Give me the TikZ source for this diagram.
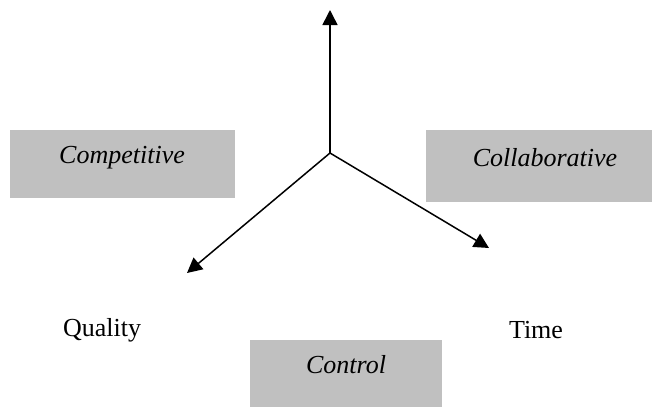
\documentclass[tikz,border=0pt]{standalone}
\usepackage{fontspec}
\setmainfont{Liberation Serif}
\usetikzlibrary{arrows.meta}
\tikzset{
  gbox/.style={fill=boxgray,inner sep=0pt},
  boxtext/.style={font=\fontsize{26}{31}\selectfont\itshape},
  axislabel/.style={font=\fontsize{26}{31}\selectfont},
  axis/.style={line width=1.5pt,-{Triangle[length=15pt,width=15pt]}}
}
\definecolor{boxgray}{RGB}{192,192,192}
\begin{document}
\begin{tikzpicture}[x=1pt,y=-1pt]
  \useasboundingbox (0,0) rectangle (657,407);
  \node[gbox,minimum width=225pt,minimum height=68pt] (competitive) at (122.5,164) {};
  \node[boxtext] (competitivetext) at (122,158) {Competitive};
  \node[gbox,minimum width=226pt,minimum height=72pt] (collaborative) at (539,166) {};
  \node[boxtext] (collaborativetext) at (545,158) {Collaborative};
  \node[gbox,minimum width=192pt,minimum height=67pt,anchor=north] (control) at (346,340) {};
  \node[boxtext] (controltext) at (346,365) {Control};
  \node[axislabel] (quality) at (102,330) {Quality};
  \node[axislabel] (time) at (536,330) {Time};
  \coordinate (origin) at (330,153);
  \coordinate (uptip) at (330,10);
  \coordinate (lefttip) at (187,273);
  \coordinate (righttip) at (489,248);
  \draw[axis] (origin) -- (uptip);
  \draw[axis] (origin) -- (lefttip);
  \draw[axis] (origin) -- (righttip);
\end{tikzpicture}
\end{document}
